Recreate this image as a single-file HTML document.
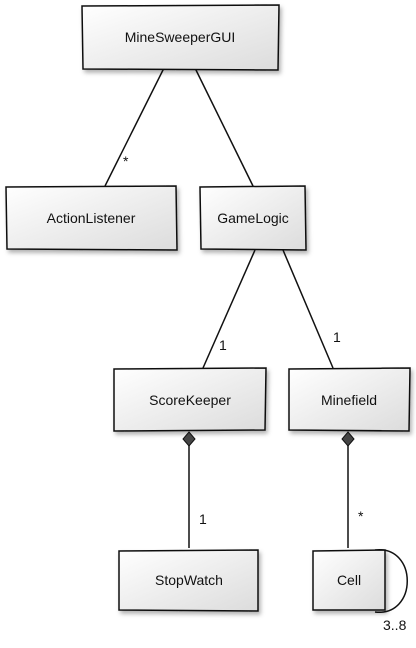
<!DOCTYPE html>
<html><head><style>body{margin:0;background:#fff}svg{display:block}text{font-family:"Liberation Sans",sans-serif;font-size:14px;fill:#111}</style></head><body>
<svg width="416" height="648" viewBox="0 0 416 648">
<defs><linearGradient id="g" x1="0" y1="0" x2="1" y2="1"><stop offset="0" stop-color="#fff"/><stop offset="1" stop-color="#dcdcdc"/></linearGradient>
<filter id="s" x="-10%" y="-10%" width="130%" height="130%"><feDropShadow dx="2" dy="3" stdDeviation="2" flood-color="#000" flood-opacity="0.3"/></filter></defs>
<g stroke="#111" stroke-width="1.5" fill="none">
<line x1="164" y1="68" x2="105" y2="186"/>
<line x1="195" y1="68" x2="253" y2="186"/>
<line x1="255" y1="250" x2="203" y2="368"/>
<line x1="283" y1="250" x2="333" y2="368"/>
<line x1="189" y1="445" x2="189" y2="548"/>
<line x1="348" y1="445" x2="348" y2="548"/>
<path d="M375 550 C418 545 418 617 375 612"/>
</g>
<g fill="url(#g)" stroke="#111" stroke-width="1.5" filter="url(#s)">
<path d="M82 6 L279 5 L278 70 L83 69 Z"/>
<path d="M6 187 L176 186 L177 250 L7 249 Z"/>
<path d="M200 187 L305 186 L306 250 L201 249 Z"/>
<path d="M114 369 L266 368 L265 430 L114 431 Z"/>
<path d="M289 369 L410 368 L409 431 L289 430 Z"/>
<path d="M119 551 L258 550 L258 611 L119 610 Z"/>
<path d="M313 551 L385 550 L385 610 L313 610 Z"/>
</g>
<g fill="#444" stroke="#111" stroke-width="1">
<path d="M189 432 L195 439 L189 446 L183 439 Z"/>
<path d="M348 432 L354 439 L348 446 L342 439 Z"/>
</g>
<g text-anchor="middle">
<text x="180" y="42">MineSweeperGUI</text>
<text x="91" y="223">ActionListener</text>
<text x="253" y="223">GameLogic</text>
<text x="190" y="405">ScoreKeeper</text>
<text x="349" y="405">Minefield</text>
<text x="189" y="585">StopWatch</text>
<text x="349" y="585">Cell</text>
</g>
<g style="font-size:9px">
<text x="123" y="166">*</text>
<text x="219" y="350">1</text>
<text x="333" y="342">1</text>
<text x="199" y="524">1</text>
<text x="358" y="521">*</text>
<text x="383" y="630">3..8</text>
</g>
</svg>
</body></html>
